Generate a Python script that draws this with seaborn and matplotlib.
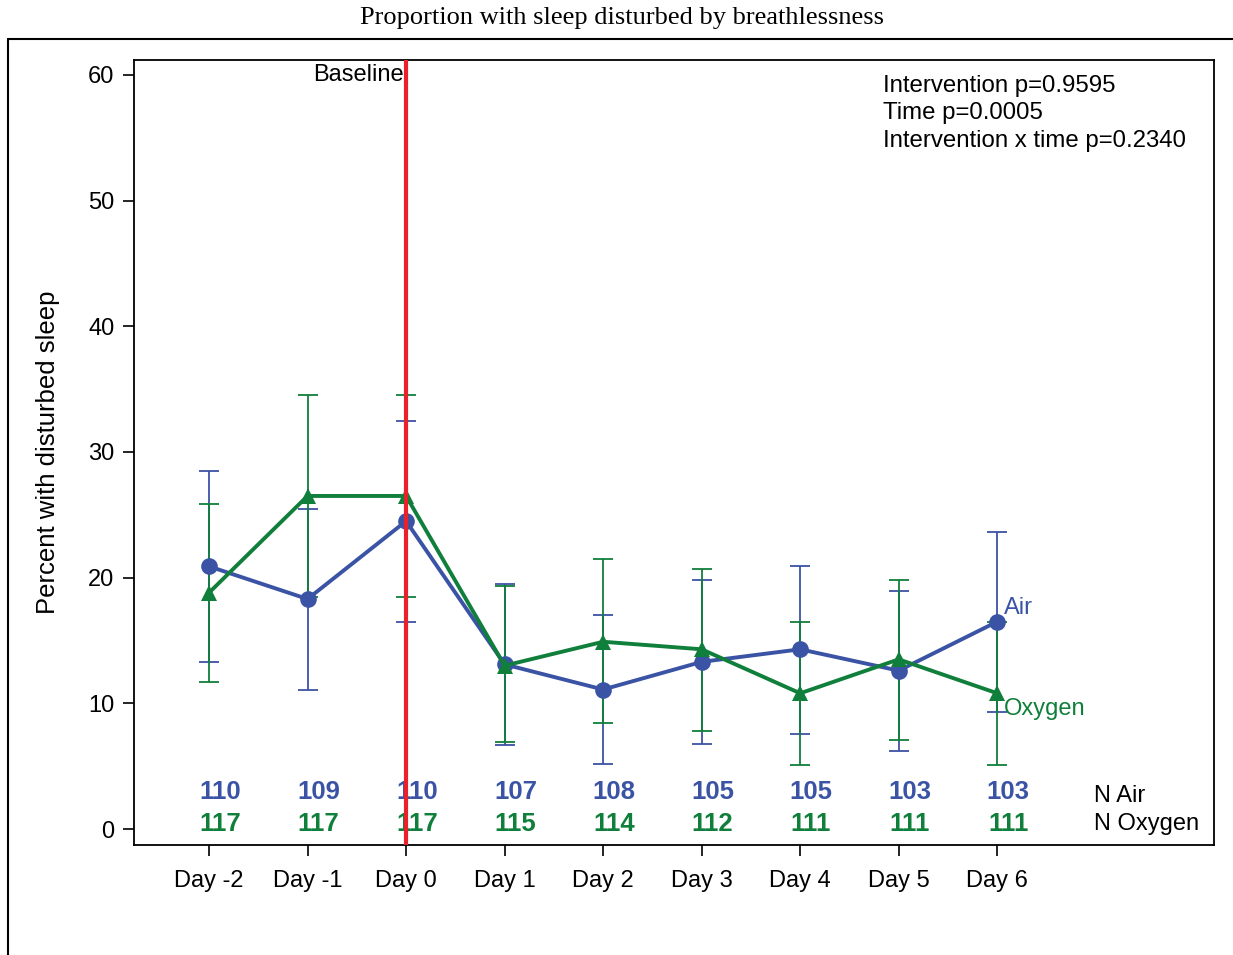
import numpy as np
import pandas as pd
import matplotlib
matplotlib.use("Agg")
import matplotlib.pyplot as plt
import matplotlib.transforms as mtransforms
from matplotlib.lines import Line2D
import seaborn as sns

# -------------------
# Data
days = ["Day -2", "Day -1", "Day 0", "Day 1", "Day 2", "Day 3", "Day 4", "Day 5", "Day 6"]

air_pct = [20.9, 18.3, 24.5, 13.1, 11.1, 13.3, 14.3, 12.6, 16.5]
air_lo = [13.3, 11.1, 16.5, 6.7, 5.2, 6.8, 7.6, 6.2, 9.3]
air_hi = [28.5, 25.5, 32.5, 19.5, 17.0, 19.8, 20.9, 18.9, 23.6]

oxy_pct = [18.8, 26.5, 26.5, 13.0, 14.9, 14.3, 10.8, 13.5, 10.8]
oxy_lo = [11.7, 18.5, 18.5, 6.9, 8.4, 7.8, 5.1, 7.1, 5.1]
oxy_hi = [25.9, 34.5, 34.5, 19.3, 21.5, 20.7, 16.5, 19.8, 16.5]

n_air = [110, 109, 110, 107, 108, 105, 105, 103, 103]
n_oxy = [117, 117, 117, 115, 114, 112, 111, 111, 111]

stats_lines = ["Intervention p=0.9595", "Time p=0.0005", "Intervention x time p=0.2340"]

BLUE = "#3b53a4"
GREEN = "#107f3b"
RED = "#e8212a"
FS = 17

# -------------------
# Long table for seaborn
pos = np.arange(len(days))
df = pd.DataFrame({
    "pos": np.concatenate([pos, pos]),
    "pct": air_pct + oxy_pct,
    "group": ["Air"] * len(days) + ["Oxygen"] * len(days),
})

sns.set_style("ticks")
plt.rcParams["font.family"] = ["Liberation Sans", "DejaVu Sans"]
plt.rcParams["text.color"] = "black"

fig = plt.figure(figsize=(12.33, 9.55), dpi=100)
ax = fig.add_axes([0.1087, 0.1152, 0.8759, 0.8220])

# error bars
ax.errorbar(pos, air_pct,
            yerr=[np.array(air_pct) - np.array(air_lo), np.array(air_hi) - np.array(air_pct)],
            fmt="none", ecolor=BLUE, elinewidth=1.3, capsize=7, capthick=1.3, zorder=2)
ax.errorbar(pos, oxy_pct,
            yerr=[np.array(oxy_pct) - np.array(oxy_lo), np.array(oxy_hi) - np.array(oxy_pct)],
            fmt="none", ecolor=GREEN, elinewidth=1.3, capsize=7, capthick=1.3, zorder=2)

sns.lineplot(data=df, x="pos", y="pct", hue="group", style="group",
             palette={"Air": BLUE, "Oxygen": GREEN},
             markers={"Air": "o", "Oxygen": "^"}, dashes=False,
             markersize=12, markeredgewidth=0, linewidth=2.8,
             legend=False, ax=ax, zorder=3)

# baseline line
trans = mtransforms.blended_transform_factory(ax.transData, ax.transAxes)
ax.axvline(2, color=RED, linewidth=3, zorder=5)
ax.text(1.98, 0.981, "Baseline", transform=trans, ha="right", va="center", fontsize=FS)

# end labels
ax.annotate("Air", (pos[-1], air_pct[-1]), xytext=(5, 10), textcoords="offset points",
            color=BLUE, fontsize=FS, ha="left", va="center")
ax.annotate("Oxygen", (pos[-1], oxy_pct[-1]), xytext=(5, -11), textcoords="offset points",
            color=GREEN, fontsize=FS, ha="left", va="center")

# N rows
for x, na, no in zip(pos, n_air, n_oxy):
    ax.text(x + 0.11, 0.0675, str(na), transform=trans, ha="center", va="center",
            color=BLUE, fontsize=18.5, fontweight="bold", zorder=4)
    ax.text(x + 0.11, 0.0268, str(no), transform=trans, ha="center", va="center",
            color=GREEN, fontsize=18.5, fontweight="bold", zorder=4)
ax.text(8.985, 0.0624, "N Air", transform=trans, ha="left", va="center", fontsize=FS)
ax.text(8.985, 0.0268, "N Oxygen", transform=trans, ha="left", va="center", fontsize=FS)

# stats text
ax.text(0.6935, 0.981, "\n".join(stats_lines), transform=ax.transAxes,
        ha="left", va="top", fontsize=17.3, linespacing=1.32)

# axes
ax.set_xlim(-0.761, 10.2)
ax.set_ylim(-1.27, 61.19)
ax.set_xticks(pos)
ax.set_xticklabels(days)
ax.set_yticks(np.arange(0, 61, 10))
ax.set_xlabel("")
ax.set_ylabel("Percent with disturbed sleep", fontsize=18.5, labelpad=20, color="black")
ax.tick_params(axis="both", direction="out", length=8, width=1.2, labelsize=FS,
               colors="black", pad=6)
ax.tick_params(axis="x", pad=10)
for sp in ax.spines.values():
    sp.set_visible(True)
    sp.set_color("black")
    sp.set_linewidth(1.3)

# outer frame and title
fig.add_artist(Line2D([8 / 1233, 1.0], [1 - 39 / 955, 1 - 39 / 955], color="black", linewidth=1.5,
                      transform=fig.transFigure))
fig.add_artist(Line2D([8 / 1233, 8 / 1233], [0.0, 1 - 39 / 955], color="black", linewidth=1.5,
                      transform=fig.transFigure))
fig.text(622 / 1233, 1 - 18 / 955, "Proportion with sleep disturbed by breathlessness",
         ha="center", va="center", fontsize=19, family=["Liberation Serif", "DejaVu Serif"])

fig.savefig("out.png", dpi=100)
